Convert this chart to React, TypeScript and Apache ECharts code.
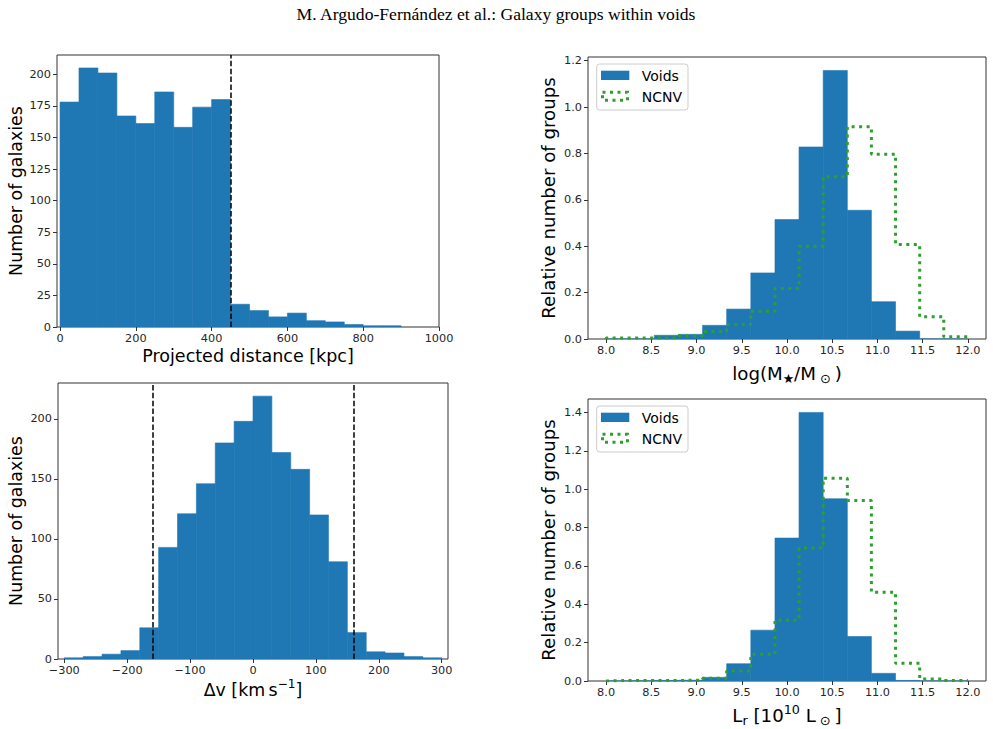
import React, { useEffect, useRef } from 'react';
import * as echarts from 'echarts';

const TITLE = 'M. Argudo-Fernández et al.: Galaxy groups within voids';

// Top-left: projected distance histogram
const distEdges = [0, 50, 100, 150, 200, 250, 300, 350, 400, 450, 500, 550, 600, 650, 700, 750, 800, 850, 900];
const distCounts = [178, 205, 201, 167, 161, 186, 158, 174, 180, 18, 13, 8, 11, 5, 4, 2, 1, 1];
const distCut = [450];
const distTicksX = [0, 200, 400, 600, 800, 1000];
const distTicksY = [0, 25, 50, 75, 100, 125, 150, 175, 200];

// Bottom-left: velocity difference histogram
const velEdges = [-300, -270, -240, -210, -180, -150, -120, -90, -60, -30, 0, 30, 60, 90, 120, 150, 180, 210, 240, 270, 300];
const velCounts = [1, 2, 4, 7, 26, 93, 121, 146, 180, 198, 219, 172, 158, 120, 81, 22, 6, 5, 2, 1];
const velCuts = [-160, 160];
const velTicksX = [-300, -200, -100, 0, 100, 200, 300];
const velTicksY = [0, 50, 100, 150, 200];

// Right: log bins
const logEdges = [8.0, 8.267, 8.533, 8.8, 9.067, 9.333, 9.6, 9.867, 10.133, 10.4, 10.667, 10.933, 11.2, 11.467, 11.733, 12.0];
const massVoids = [0, 0, 0.016, 0.02, 0.059, 0.129, 0.285, 0.515, 0.828, 1.158, 0.555, 0.161, 0.034, 0, 0];
const massNcnv = [0.004, 0.004, 0.005, 0.014, 0.032, 0.063, 0.12, 0.218, 0.4, 0.7, 0.915, 0.797, 0.407, 0.096, 0.01];
const lumVoids = [0, 0.001, 0.003, 0.004, 0.019, 0.09, 0.265, 0.745, 1.4, 0.95, 0.232, 0.04, 0.003, 0, 0];
const lumNcnv = [0.003, 0.003, 0.003, 0.004, 0.014, 0.052, 0.139, 0.317, 0.693, 1.057, 0.941, 0.463, 0.092, 0.01, 0.003];
const logTicksX = [8.0, 8.5, 9.0, 9.5, 10.0, 10.5, 11.0, 11.5, 12.0];
const massTicksY = [0, 0.2, 0.4, 0.6, 0.8, 1.0, 1.2];
const lumTicksY = [0, 0.2, 0.4, 0.6, 0.8, 1.0, 1.2, 1.4];

const FF = 'DejaVu Sans';
const TICK_FS = 11.3;
const TICK_COLOR = '#262626';
const SPINE = '#333333';
const BLUE = '#1f77b4';
const GREEN = '#2ca02c';

const binRows = (edges: number[], vals: number[]) => vals.map((v, i) => [edges[i], edges[i + 1], v]);
const stepPoints = (edges: number[], vals: number[]) => {
  const pts: number[][] = [[edges[0], 0]];
  vals.forEach((v, i) => {
    pts.push([edges[i], v]);
    pts.push([edges[i + 1], v]);
  });
  pts.push([edges[edges.length - 1], 0]);
  return pts;
};

const minusFmt = (v: number) => (v < 0 ? '\u2212' + Math.abs(v) : String(v));
const oneDec = (v: number) => v.toFixed(1);
const intFmt = (v: number) => String(Math.round(v));

const nameRich = (fs: number) => ({
  n: { fontSize: fs, fontFamily: FF, color: '#000', lineHeight: 24, verticalAlign: 'middle' },
  sub: { fontSize: fs * 0.7, fontFamily: FF, color: '#000', lineHeight: 12, verticalAlign: 'bottom' },
  sup: { fontSize: fs * 0.7, fontFamily: FF, color: '#000', lineHeight: 10, verticalAlign: 'top' },
});

function xAxisCfg(gi: number, min: number, max: number, ticks: number[], fmt: any, name: string, gap: number, fs: number, rich = false) {
  return {
    type: 'value', gridIndex: gi, min, max,
    axisLine: { show: false, onZero: false },
    splitLine: { show: false },
    axisTick: { show: true, length: 4, inside: false, customValues: ticks, lineStyle: { color: SPINE, width: 1 } },
    axisLabel: { customValues: ticks, formatter: fmt, fontSize: TICK_FS, fontFamily: FF, color: TICK_COLOR, margin: 6 },
    name, nameLocation: 'middle', nameGap: gap,
    nameTextStyle: rich ? { fontSize: fs, fontFamily: FF, color: '#000', rich: nameRich(fs) } : { fontSize: fs, fontFamily: FF, color: '#000' },
  };
}

function yAxisCfg(gi: number, min: number, max: number, ticks: number[], fmt: any, name: string, gap: number, fs: number) {
  return {
    type: 'value', gridIndex: gi, min, max,
    axisLine: { show: false, onZero: false },
    splitLine: { show: false },
    axisTick: { show: true, length: 4, inside: false, customValues: ticks, lineStyle: { color: SPINE, width: 1 } },
    axisLabel: { customValues: ticks, formatter: fmt, fontSize: TICK_FS, fontFamily: FF, color: TICK_COLOR, margin: 6 },
    name, nameLocation: 'middle', nameGap: gap,
    nameTextStyle: { fontSize: fs, fontFamily: FF, color: '#000' },
  };
}

function barSeries(gi: number, edges: number[], vals: number[], cuts: number[] | null) {
  const s: any = {
    type: 'custom', xAxisIndex: gi, yAxisIndex: gi, clip: true,
    data: binRows(edges, vals),
    encode: { x: [0, 1], y: 2 },
    renderItem: (params: any, api: any) => {
      const p0 = api.coord([api.value(0), api.value(2)]);
      const p1 = api.coord([api.value(1), 0]);
      return {
        type: 'rect',
        shape: { x: p0[0], y: p0[1], width: p1[0] - p0[0], height: p1[1] - p0[1] },
        style: { fill: BLUE, stroke: BLUE, lineWidth: 0.6 },
      };
    },
    z: 2,
  };
  if (cuts) {
    s.markLine = {
      silent: true, symbol: 'none', label: { show: false },
      lineStyle: { type: [5.5, 2.4], color: '#000', width: 1.5 },
      data: cuts.map((c) => ({ xAxis: c })),
    };
  }
  return s;
}

function stepSeries(gi: number, edges: number[], vals: number[]) {
  return {
    type: 'line', xAxisIndex: gi, yAxisIndex: gi,
    data: stepPoints(edges, vals),
    showSymbol: false, symbol: 'none',
    lineStyle: { color: GREEN, width: 3, type: [3, 4.5], cap: 'butt' },
    z: 3,
  };
}

function legendGraphics(left: number, top: number) {
  return [
    { type: 'rect', shape: { x: left + 8.7, y: top + 7, width: 91.3, height: 46, r: 3 }, style: { fill: 'rgba(255,255,255,0.8)', stroke: '#cccccc', lineWidth: 1 }, z: 10 },
    { type: 'rect', shape: { x: left + 13, y: top + 13.7, width: 28.3, height: 9.3 }, style: { fill: BLUE }, z: 11 },
    { type: 'text', x: left + 53.7, y: top + 18.7, style: { text: 'Voids', fontSize: 14, fontFamily: FF, fill: '#000', verticalAlign: 'middle', align: 'left' }, z: 11 },
    { type: 'rect', shape: { x: left + 14.5, y: top + 35.2, width: 25, height: 8 }, style: { fill: 'none', stroke: GREEN, lineWidth: 3, lineDash: [3, 4.5] }, z: 11 },
    { type: 'text', x: left + 53.7, y: top + 40, style: { text: 'NCNV', fontSize: 14, fontFamily: FF, fill: '#000', verticalAlign: 'middle', align: 'left' }, z: 11 },
  ];
}

const grids = [
  { left: 57, top: 55, width: 382, height: 272 },
  { left: 58, top: 383, width: 390, height: 276 },
  { left: 588, top: 57, width: 398, height: 282 },
  { left: 588, top: 399, width: 398, height: 282 },
];

export default function App() {
  const ref = useRef<HTMLDivElement>(null);
  useEffect(() => {
    document.body.style.margin = '0';
    if (!ref.current) return;
    const chart = echarts.init(ref.current, null, { renderer: 'svg' });
    const option: any = {
      animation: false,
      backgroundColor: '#fff',
      grid: grids.map((g) => ({ ...g, show: true, borderColor: SPINE, borderWidth: 1, backgroundColor: 'transparent', containLabel: false })),
      xAxis: [
        xAxisCfg(0, -8, 1000, distTicksX, intFmt, 'Projected distance [kpc]', 20, 17.5),
        xAxisCfg(1, -310, 310, velTicksX, minusFmt, '{n|Δv [km\u2009s}{sup|\u22121}{n|]}', 19, 17.4, true),
        xAxisCfg(2, 7.8, 12.2, logTicksX, oneDec, '{n|log(M}{sub|★}{n|/M}{sub| ⊙ }{n|)}', 22, 18.2, true),
        xAxisCfg(3, 7.8, 12.2, logTicksX, oneDec, '{n|L}{sub|r}{n| [10}{sup|10}{n| L}{sub| ⊙ }{n|]}', 22, 18.2, true),
      ],
      yAxis: [
        yAxisCfg(0, 0, 215.25, distTicksY, intFmt, 'Number of galaxies', 33, 17.4),
        yAxisCfg(1, 0, 229.95, velTicksY, intFmt, 'Number of galaxies', 34, 17.4),
        yAxisCfg(2, 0, 1.2159, massTicksY, oneDec, 'Relative number of groups', 31, 18.2),
        yAxisCfg(3, 0, 1.47, lumTicksY, oneDec, 'Relative number of groups', 31, 18.2),
      ],
      series: [
        barSeries(0, distEdges, distCounts, distCut),
        barSeries(1, velEdges, velCounts, velCuts),
        barSeries(2, logEdges, massVoids, null),
        stepSeries(2, logEdges, massNcnv),
        barSeries(3, logEdges, lumVoids, null),
        stepSeries(3, logEdges, lumNcnv),
      ],
      graphic: [
        { type: 'text', x: 496, y: 14, style: { text: TITLE, fontSize: 17.6, fontFamily: 'Liberation Serif', fill: '#000', align: 'center', verticalAlign: 'middle' } },
        ...legendGraphics(grids[2].left, grids[2].top),
        ...legendGraphics(grids[3].left, grids[3].top),
      ],
    };
    chart.setOption(option);
    return () => chart.dispose();
  }, []);
  return <div ref={ref} style={{ width: 993, height: 729 }} />;
}
